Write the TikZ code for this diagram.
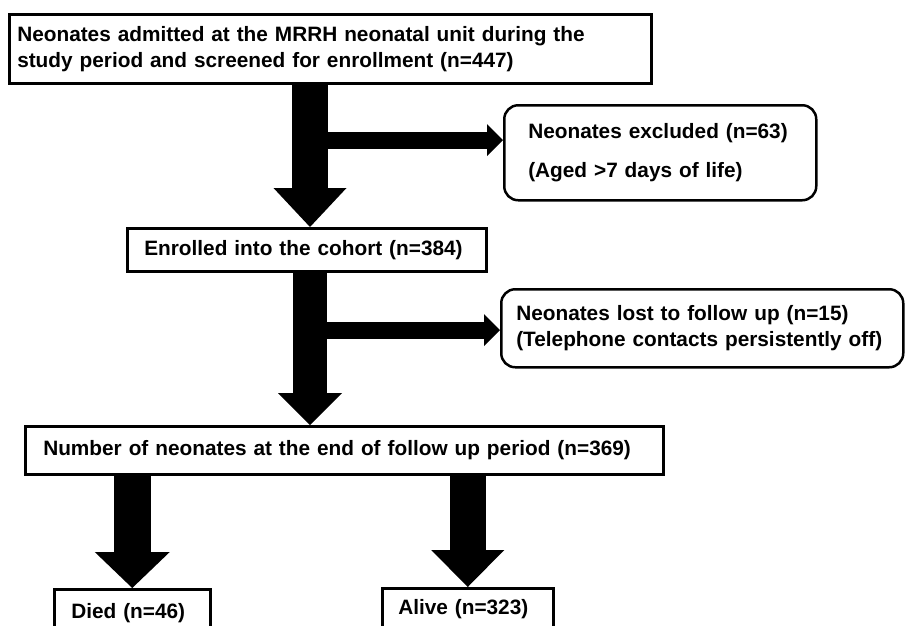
\documentclass[tikz,border=0pt]{standalone}
\usepackage{fontspec}
\setmainfont{Liberation Sans}
\usetikzlibrary{arrows.meta}
\begin{document}
\begin{tikzpicture}[x=1pt,y=-1pt,
  box/.style={draw, line width=2.5pt, anchor=north west, inner ysep=0pt, align=left,
    font=\fontsize{20.8}{26}\selectfont\bfseries},
  rbox/.style={box, rounded corners=14pt},
  fat/.style n args={3}{line width=#1, -{Triangle[width=#2, length=#3, line width=0pt]}},
]
\useasboundingbox (0,0) rectangle (905,625);
\clip (0,0) rectangle (905,625);
\fill[white] (0,0) rectangle (905,625);

\node[box, text width=626pt, inner xsep=8pt, minimum height=69pt] (top) at (8,13)
  {Neonates admitted at the MRRH neonatal unit during the\\study period and screened for enrollment (n=447)};
\node[rbox, text width=264pt, inner xsep=24pt, minimum height=95pt,
  font=\fontsize{20.8}{39}\selectfont\bfseries] (exc) at (503,104)
  {Neonates excluded (n=63)\\(Aged >7 days of life)};
\node[box, text width=325pt, inner xsep=17pt, minimum height=43pt] (enr) at (126,227)
  {Enrolled into the cohort (n=384)};
\node[rbox, text width=372pt, inner xsep=15pt, minimum height=78pt] (lost) at (500,288)
  {Neonates lost to follow up (n=15)\\(Telephone contacts persistently off)};
\node[box, text width=602pt, inner xsep=18pt, minimum height=48pt] (num) at (24,425)
  {Number of neonates at the end of follow up period (n=369)};
\node[box, text width=122pt, inner xsep=17pt, minimum height=47pt] (died) at (53,588)
  {Died (n=46)};
\node[box, text width=139pt, inner xsep=16pt, minimum height=41pt] (alive) at (381,587)
  {Alive (n=323)};

\coordinate (s1) at (310,0);
\coordinate (b1) at (310,140);
\coordinate (b2) at (310,330);

\draw[fat={36pt}{73pt}{39pt}] (s1 |- top.south) -- (s1 |- enr.north);
\draw[fat={17pt}{32pt}{16pt}] (b1) -- (b1 -| exc.west);
\draw[fat={34pt}{64pt}{32pt}] (s1 |- enr.south) -- (s1 |- num.north);
\draw[fat={17pt}{32pt}{16pt}] (b2) -- (b2 -| lost.west);
\draw[fat={37pt}{75pt}{36pt}] (died.north |- num.south) -- (died.north);
\draw[fat={36pt}{73pt}{37pt}] (alive.north |- num.south) -- (alive.north);
\end{tikzpicture}
\end{document}
